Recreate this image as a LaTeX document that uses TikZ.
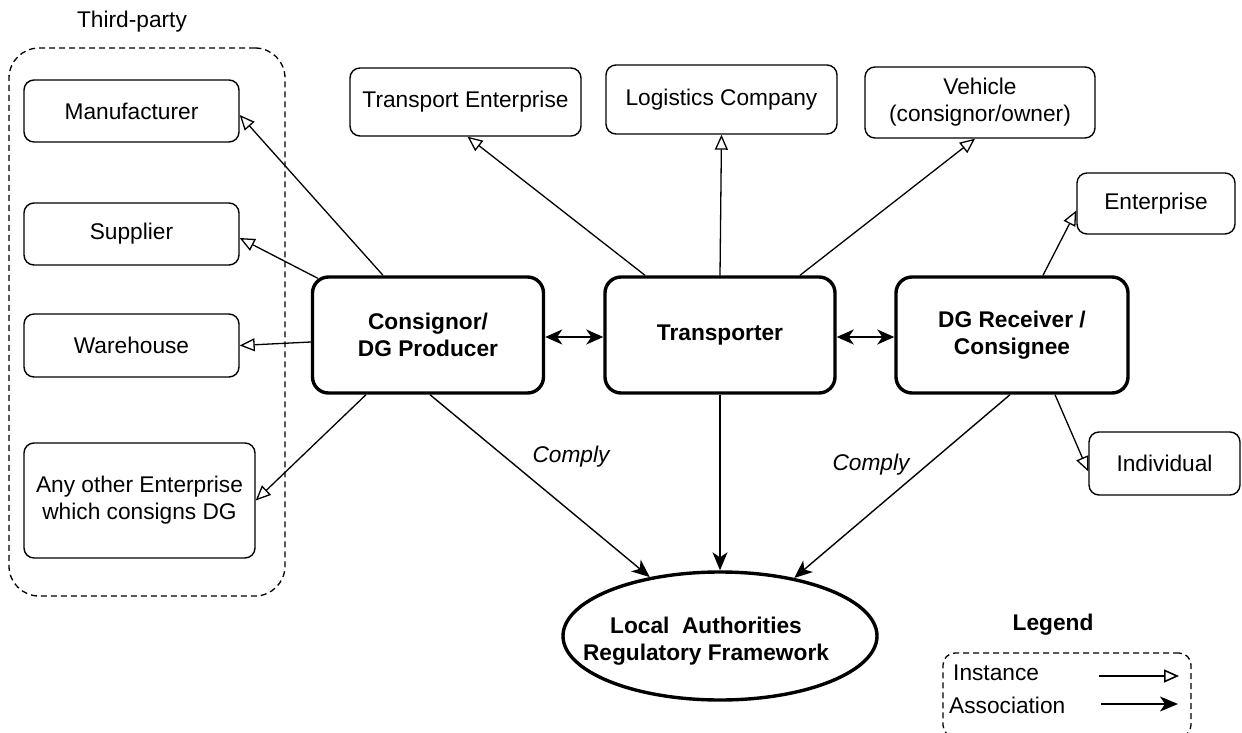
\documentclass[tikz,border=0pt]{standalone}
\usepackage{fontspec}
\setmainfont{Liberation Sans}
\usetikzlibrary{arrows.meta,shapes.geometric,calc}
\begin{document}
\begin{tikzpicture}[x=1pt,y=-1pt,
  every node/.style={font=\fontsize{22.7}{27}\selectfont, inner sep=0pt, align=center},
  smallbox/.style={draw, line width=1.4pt, rounded corners=10pt},
  mainbox/.style={draw, line width=3.4pt, rounded corners=16pt, font=\fontsize{22.7}{27}\selectfont\bfseries},
  grpbox/.style={draw, line width=1.3pt, dash pattern=on 6pt off 4pt, rounded corners=30pt},
  inst/.style={line width=1.3pt, -{Triangle[open, length=15pt, width=13pt]}},
  assoc/.style={line width=1.4pt, -{Stealth[length=18pt, width=15pt, inset=5pt]}},
  assoc2/.style={line width=2pt, {Stealth[length=17pt, width=15pt, inset=5pt]}-{Stealth[length=17pt, width=15pt, inset=5pt]}},
  lbl/.style={font=\fontsize{22.7}{27}\selectfont\itshape}
]
\useasboundingbox (0,0) rectangle (1242,733);
\begin{scope}
\clip (0,0) rectangle (1242,733);

% third-party group
\node[grpbox, minimum width=276pt, minimum height=548pt] (tp) at (147,322) {};
\node (tplabel) at (132,22) {Third-party};

\node[smallbox, minimum width=215pt, minimum height=62pt] (manu) at (131.5,111) {Manufacturer};
\node[smallbox, minimum width=215pt, minimum height=62pt] (supp) at (131.5,234) {Supplier};
\node[smallbox, minimum width=215pt, minimum height=63pt] (ware) at (131.5,345.5) {Warehouse};
\node[smallbox, minimum width=231pt, minimum height=115pt] (other) at (139.5,500.5) {Any other Enterprise\\which consigns DG};

\node[smallbox, minimum width=231pt, minimum height=68pt] (te) at (465.5,102) {Transport Enterprise};
\node[smallbox, minimum width=231pt, minimum height=69pt] (logi) at (721.5,99.5) {Logistics Company};
\node[smallbox, minimum width=230pt, minimum height=71pt] (veh) at (980,102.5) {Vehicle\\(consignor/owner)};
\node[smallbox, minimum width=158pt, minimum height=61pt] (ent) at (1156,203.5) {Enterprise};
\node[smallbox, minimum width=151pt, minimum height=63pt] (ind) at (1164.5,463.5) {Individual};

\node[mainbox, minimum width=231pt, minimum height=116pt] (cons) at (428,335) {Consignor/\\DG Producer};
\node[mainbox, minimum width=230pt, minimum height=116pt] (trans) at (720,335) {Transporter};
\node[mainbox, minimum width=232pt, minimum height=116pt] (recv) at (1012,335) {DG Receiver /\\Consignee};

\node[draw, ellipse, line width=3.4pt, minimum width=314pt, minimum height=128pt] (ell) at (720,636) {};
\node[font=\fontsize{22.7}{27}\selectfont\bfseries] (elltext) at (706,641) {Local~~Authorities\\Regulatory Framework};

% instance arrows
\draw[inst] ([xshift=-45pt]cons.north) -- ([yshift=-4pt]manu.east);
\draw[inst] ([xshift=7pt,yshift=-3pt]cons.north west) -- ([yshift=-4pt]supp.east);
\draw[inst] ([yshift=-7pt]cons.west) -- (ware.east);
\draw[inst] ([xshift=-62pt]cons.south) -- (other.east);
\draw[inst] ([xshift=-75pt]trans.north) -- ([xshift=2pt]te.south);
\draw[inst] (trans.north) -- (logi.south);
\draw[inst] ([xshift=80pt]trans.north) -- ([xshift=-5pt]veh.south);
\draw[inst] ([xshift=31pt]recv.north) -- ([yshift=-7pt]ent.west);
\draw[inst] ([xshift=43pt]recv.south) -- ([yshift=-8pt]ind.west);

% association arrows
\draw[assoc2] ([yshift=-2pt]cons.east) -- ([yshift=-2pt]trans.west);
\draw[assoc2] ([yshift=-2pt]trans.east) -- ([yshift=-2pt]recv.west);
\draw[assoc] ([xshift=2pt]cons.south) -- (ell.140);
\draw[assoc] (trans.south) -- (ell.north);
\draw[assoc] ([xshift=-2pt]recv.south) -- (ell.38);

\node[lbl] (c1) at (571,457) {Comply};
\node[lbl] (c2) at (871,465) {Comply};

% legend
\node[font=\fontsize{22.7}{27}\selectfont\bfseries] (legt) at (1053,625) {Legend};
\node[draw, line width=1.3pt, dash pattern=on 6pt off 4pt, rounded corners=12pt, minimum width=248pt, minimum height=84pt] (legbox) at (1067,695) {};
\node[anchor=west] (li) at (953,673) {Instance};
\node[anchor=west] (la) at (949,705) {Association};
\coordinate (li1) at (1099,676);
\coordinate (li2) at (1179,676);
\coordinate (la1) at (1101,704);
\coordinate (la2) at (1178,704);
\draw[inst, line width=1.6pt] (li1) -- (li2);
\draw[assoc, line width=1.8pt] (la1) -- (la2);
\end{scope}
\end{tikzpicture}
\end{document}
